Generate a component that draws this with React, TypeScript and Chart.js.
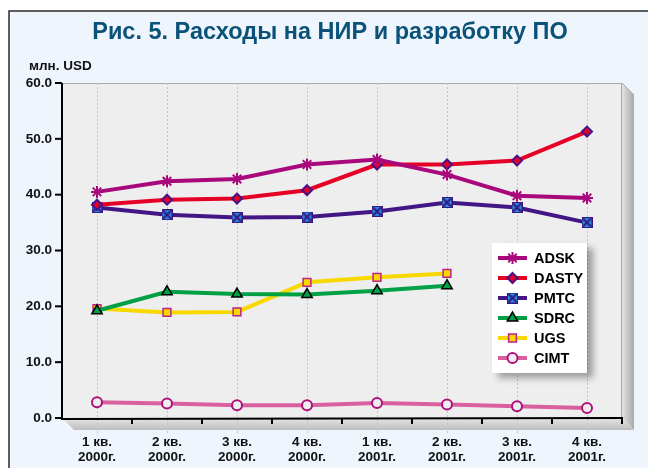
import React, { useEffect, useRef } from "react";
import { Chart, registerables } from "chart.js";
import { drawPoint } from "chart.js/helpers";

Chart.register(...registerables);

const categories: string[][] = [
  ["1 кв.", "2000г."],
  ["2 кв.", "2000г."],
  ["3 кв.", "2000г."],
  ["4 кв.", "2000г."],
  ["1 кв.", "2001г."],
  ["2 кв.", "2001г."],
  ["3 кв.", "2001г."],
  ["4 кв.", "2001г."],
];

const ADSK = [40.5, 42.4, 42.8, 45.4, 46.3, 43.6, 39.8, 39.4];
const DASTY = [38.2, 39.1, 39.3, 40.8, 45.4, 45.4, 46.1, 51.3];
const PMTC = [37.7, 36.4, 35.9, 36.0, 37.0, 38.6, 37.7, 35.0];
const SDRC = [19.2, 22.6, 22.2, 22.1, 22.8, 23.7, null, null];
const UGS = [19.6, 18.9, 19.0, 24.3, 25.2, 25.9, null, null];
const CIMT = [2.8, 2.6, 2.3, 2.3, 2.7, 2.4, 2.1, 1.8];

const TITLE = "Рис. 5. Расходы на НИР и разработку ПО";
const UNIT = "млн. USD";
const FONT = '"Liberation Sans", Arial, sans-serif';

function makePmtcMarker(): HTMLCanvasElement {
  const c = document.createElement("canvas");
  c.width = 11;
  c.height = 11;
  const g = c.getContext("2d")!;
  g.fillStyle = "#1e8fe0";
  g.fillRect(0, 0, 11, 11);
  g.strokeStyle = "#3a1580";
  g.lineWidth = 2;
  g.beginPath();
  g.moveTo(1.5, 1.5);
  g.lineTo(9.5, 9.5);
  g.moveTo(9.5, 1.5);
  g.lineTo(1.5, 9.5);
  g.stroke();
  g.lineWidth = 1;
  g.strokeRect(0.5, 0.5, 10, 10);
  return c;
}

const decorPlugin = {
  id: "decor",
  beforeDraw(chart: any) {
    const ctx = chart.ctx as CanvasRenderingContext2D;
    const { left, right, top, bottom } = chart.chartArea;
    const W = chart.width;
    const H = chart.height;
    const d = 12;
    ctx.save();
    ctx.fillStyle = "#ffffff";
    ctx.fillRect(0, 0, W, H);
    // frame
    ctx.fillStyle = "#eef5fd";
    ctx.fillRect(9, 11, W + 20, H + 20);
    ctx.strokeStyle = "#2a2a2a";
    ctx.lineWidth = 1.5;
    ctx.strokeRect(9, 11, W + 20, H + 20);
    // title
    ctx.fillStyle = "#0b5279";
    ctx.font = `bold 23.5px ${FONT}`;
    ctx.textAlign = "center";
    ctx.textBaseline = "alphabetic";
    ctx.fillText(TITLE, 330, 39);
    // unit
    ctx.fillStyle = "#111";
    ctx.font = `bold 13.5px ${FONT}`;
    ctx.textAlign = "left";
    ctx.textBaseline = "middle";
    ctx.fillText(UNIT, 29, 66);
    // right wall
    let g = ctx.createLinearGradient(right, 0, right + d, 0);
    g.addColorStop(0, "#e2e2e2");
    g.addColorStop(1, "#a9a9a9");
    ctx.fillStyle = g;
    ctx.beginPath();
    ctx.moveTo(right, top);
    ctx.lineTo(right + d, top + d);
    ctx.lineTo(right + d, bottom + d);
    ctx.lineTo(right, bottom);
    ctx.closePath();
    ctx.fill();
    // floor
    g = ctx.createLinearGradient(0, bottom, 0, bottom + d);
    g.addColorStop(0, "#e6e6e6");
    g.addColorStop(1, "#bdbdbd");
    ctx.fillStyle = g;
    ctx.beginPath();
    ctx.moveTo(left, bottom);
    ctx.lineTo(right, bottom);
    ctx.lineTo(right + d, bottom + d);
    ctx.lineTo(left + d, bottom + d);
    ctx.closePath();
    ctx.fill();
    // plot bg
    ctx.fillStyle = "#eeeeee";
    ctx.fillRect(left, top, right - left, bottom - top);
    ctx.strokeStyle = "#a8a8a8";
    ctx.lineWidth = 1;
    ctx.beginPath();
    ctx.moveTo(left, top + 0.5);
    ctx.lineTo(right - 0.5, top + 0.5);
    ctx.lineTo(right - 0.5, bottom);
    ctx.moveTo(right, top);
    ctx.lineTo(right + d, top + d);
    ctx.stroke();
    // dotted vertical grid at category centres
    const xs = chart.scales.x;
    ctx.strokeStyle = "#c4c4c4";
    ctx.lineWidth = 1;
    ctx.setLineDash([2, 2]);
    for (let i = 0; i < categories.length; i++) {
      const x = Math.round(xs.getPixelForValue(i)) + 0.5;
      ctx.beginPath();
      ctx.moveTo(x, top);
      ctx.lineTo(x, bottom + 17);
      ctx.stroke();
    }
    ctx.setLineDash([]);
    ctx.restore();
  },
  beforeDatasetsDraw(chart: any) {
    const ctx = chart.ctx as CanvasRenderingContext2D;
    const { left, right, top, bottom } = chart.chartArea;
    const xs = chart.scales.x;
    const ys = chart.scales.y;
    ctx.save();
    ctx.strokeStyle = "#000";
    ctx.lineWidth = 2;
    ctx.beginPath();
    ctx.moveTo(left, top);
    ctx.lineTo(left, bottom + 1);
    ctx.lineTo(right + 1, bottom);
    ctx.stroke();
    ys.ticks.forEach((t: any) => {
      const y = ys.getPixelForValue(t.value);
      ctx.beginPath();
      ctx.moveTo(left - 7, y);
      ctx.lineTo(left, y);
      ctx.stroke();
    });
    for (let i = 1; i <= categories.length; i++) {
      const x = Math.round(xs.getPixelForValue(i - 0.5));
      ctx.beginPath();
      ctx.moveTo(x, bottom);
      ctx.lineTo(x, bottom + 6);
      ctx.stroke();
    }
    ctx.restore();
  },
  afterDraw(chart: any) {
    const ctx = chart.ctx as CanvasRenderingContext2D;
    const bx = 492, by = 243, bw = 95, bh = 130;
    ctx.save();
    ctx.shadowColor = "rgba(0,0,0,0.35)";
    ctx.shadowBlur = 7;
    ctx.shadowOffsetX = 6;
    ctx.shadowOffsetY = 5;
    ctx.fillStyle = "#ffffff";
    ctx.fillRect(bx, by, bw, bh);
    ctx.restore();
    ctx.save();
    chart.data.datasets.forEach((ds: any, i: number) => {
      const y = 258 + i * 20;
      ctx.strokeStyle = ds.borderColor;
      ctx.lineWidth = 4;
      ctx.beginPath();
      ctx.moveTo(498, y);
      ctx.lineTo(527, y);
      ctx.stroke();
      ctx.strokeStyle = ds.pointBorderColor;
      ctx.fillStyle = ds.pointBackgroundColor;
      ctx.lineWidth = ds.pointBorderWidth;
      drawPoint(
        ctx,
        {
          pointStyle: ds.pointStyle,
          rotation: 0,
          radius: ds.pointRadius,
          borderWidth: ds.pointBorderWidth,
        } as any,
        512.5,
        y
      );
      ctx.fillStyle = "#000";
      ctx.font = `bold 14.5px ${FONT}`;
      ctx.textAlign = "left";
      ctx.textBaseline = "middle";
      ctx.fillText(ds.label, 534, y + 1);
    });
    ctx.restore();
  },
};

export default function App() {
  const ref = useRef<HTMLCanvasElement | null>(null);
  useEffect(() => {
    if (!ref.current) return;
    const pmtcMarker = makePmtcMarker();
    const common = { borderWidth: 4, tension: 0, spanGaps: false };
    const chart = new Chart(ref.current, {
      type: "line",
      data: {
        labels: categories,
        datasets: [
          {
            ...common,
            label: "ADSK",
            data: ADSK,
            borderColor: "#a8087c",
            pointStyle: "star",
            pointRadius: 6,
            pointBorderColor: "#a8087c",
            pointBackgroundColor: "#a8087c",
            pointBorderWidth: 2,
          },
          {
            ...common,
            label: "DASTY",
            data: DASTY,
            borderColor: "#e60026",
            pointStyle: "rectRot",
            pointRadius: 5,
            pointBorderColor: "#45128a",
            pointBackgroundColor: "#e60026",
            pointBorderWidth: 2,
          },
          {
            ...common,
            label: "PMTC",
            data: PMTC,
            borderColor: "#431685",
            pointStyle: pmtcMarker,
            pointRadius: 5,
            pointBorderColor: "#431685",
            pointBackgroundColor: "#1e8fe0",
            pointBorderWidth: 1,
          },
          {
            ...common,
            label: "SDRC",
            data: SDRC,
            borderColor: "#00a044",
            pointStyle: "triangle",
            pointRadius: 6,
            pointBorderColor: "#000000",
            pointBackgroundColor: "#00a044",
            pointBorderWidth: 1.5,
          },
          {
            ...common,
            label: "UGS",
            data: UGS,
            borderColor: "#f7d900",
            pointStyle: "rect",
            pointRadius: 5.5,
            pointBorderColor: "#c0208a",
            pointBackgroundColor: "#f7d900",
            pointBorderWidth: 1.5,
          },
          {
            ...common,
            label: "CIMT",
            data: CIMT,
            borderColor: "#d8609e",
            pointStyle: "circle",
            pointRadius: 5,
            pointBorderColor: "#b0107a",
            pointBackgroundColor: "#eeeeee",
            pointBorderWidth: 2,
          },
        ],
      },
      options: {
        responsive: false,
        animation: false,
        devicePixelRatio: 1,
        layout: { padding: { top: 83, right: 26, bottom: 0, left: 0 } },
        plugins: {
          legend: { display: false },
          title: { display: false },
          tooltip: { enabled: false },
        },
        scales: {
          x: {
            type: "category",
            offset: true,
            grid: { display: false },
            border: { display: false },
            ticks: {
              autoSkip: false,
              maxRotation: 0,
              minRotation: 0,
              padding: 9,
              color: "#111",
              font: { family: FONT, size: 13.5, weight: "bold", lineHeight: 1.1 },
            },
            afterFit(scale: any) {
              scale.height = 50;
            },
          },
          y: {
            min: 0,
            max: 60,
            grid: { display: false },
            border: { display: false },
            ticks: {
              stepSize: 10,
              padding: 2,
              color: "#111",
              font: { family: FONT, size: 13.5, weight: "bold" },
              callback: (v: any) => Number(v).toFixed(1),
            },
            afterFit(scale: any) {
              scale.width = 62;
            },
          },
        },
      },
      plugins: [decorPlugin],
    });
    return () => chart.destroy();
  }, []);
  return (
    <div style={{ position: "fixed", left: 0, top: 0, width: 648, height: 468 }}>
      <canvas ref={ref} width={648} height={468} style={{ display: "block" }} />
    </div>
  );
}
